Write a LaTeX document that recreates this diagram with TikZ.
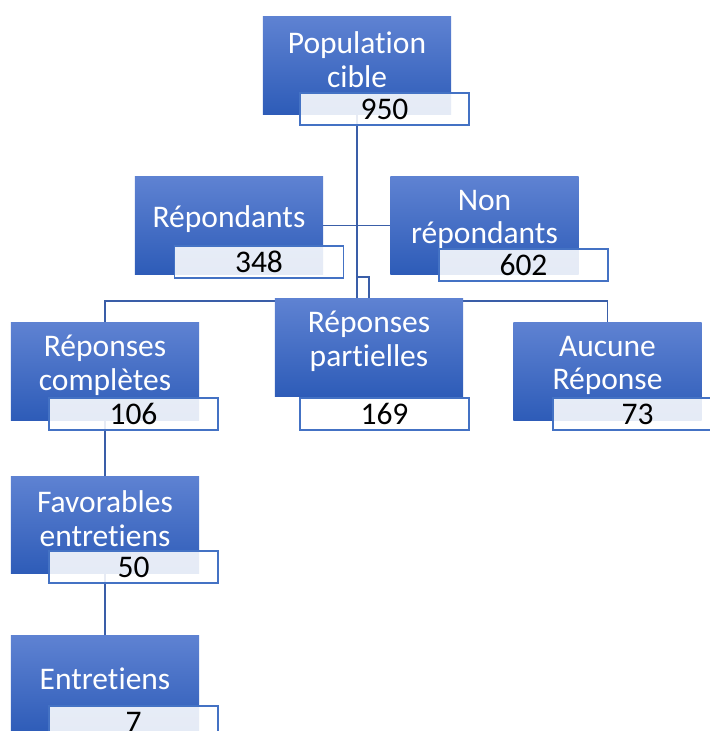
\documentclass[tikz,border=0pt]{standalone}
\usepackage{fontspec}
\newfontfamily\calibri[RawFeature={-liga;-clig;-calt}]{Carlito}
\usetikzlibrary{backgrounds}
\definecolor{boxtop}{RGB}{94,130,210}
\definecolor{boxbot}{RGB}{46,92,184}
\definecolor{edgeblue}{RGB}{68,114,196}
\definecolor{linkblue}{RGB}{58,94,168}

\begin{document}
\begin{tikzpicture}[x=0.025cm, y=-0.025cm,
  group/.style={minimum width=4.7cm, minimum height=2.425cm, outer sep=0pt, top color=boxtop, bottom color=boxbot, label={[headtext]center:#1}},
  headtext/.style={text=white, align=center, yshift=4.3pt, font=\calibri\fontsize{22.4}{24}\selectfont},
  tally/.style={draw=edgeblue, line width=0.8pt, fill=white, fill opacity=0.88, text opacity=1, minimum width=4.225cm, minimum height=0.8cm, inner sep=0pt, outer sep=0pt, font=\calibri\fontsize{22.4}{24}\selectfont},
  link/.style={draw=linkblue, line width=1pt}]
\useasboundingbox (0,0) rectangle (710,731);

\node[group={Population\\cible}] (pop) at (357,65.5) {};
\node[tally] (popn) at (384.5,109) {950};

\node[group={R\'epondants}] (rep) at (229,225.5) {};
\node[tally] (repn) at (259,262) {348};
\node[group={Non\\r\'epondants}] (non) at (484.5,225.5) {};
\node[tally] (nonn) at (523.5,265) {602};

\node[group={R\'eponses\\compl\`etes}] (comp) at (105,371.5) {};
\node[tally] (compn) at (133.5,414) {106};
\node[group={R\'eponses\\partielles}] (part) at (369,347.5) {};
\node[tally, fill opacity=1] (partn) at (384.5,414) {169};
\node[group={Aucune\\R\'eponse}] (auc) at (607.5,371.5) {};
\node[tally] (aucn) at (637.5,414) {73};

\node[group={Favorables\\entretiens}] (fav) at (105,525) {};
\node[tally] (favn) at (133.5,567) {50};
\node[group={Entretiens}] (ent) at (105,684.5) {};
\node[tally] (entn) at (133.5,722) {7};

% connectors behind the boxes
\begin{scope}[on background layer]
\coordinate (hub) at (369,277);
\coordinate (bar) at (369,301);
\draw[link] (pop.south) -- (pop.south |- part.north);
\draw[link] (rep.east) -- (rep.east -| pop.south);
\draw[link] (non.west) -- (non.west -| pop.south);
\draw[link] (pop.south |- hub) -- (hub) -- (part.north);
\draw[link] (comp.north) |- (bar) -| (auc.north);
\draw[link] (comp.south) -- (fav.north);
\draw[link] (fav.south) -- (ent.north);
\end{scope}
\end{tikzpicture}
\end{document}
